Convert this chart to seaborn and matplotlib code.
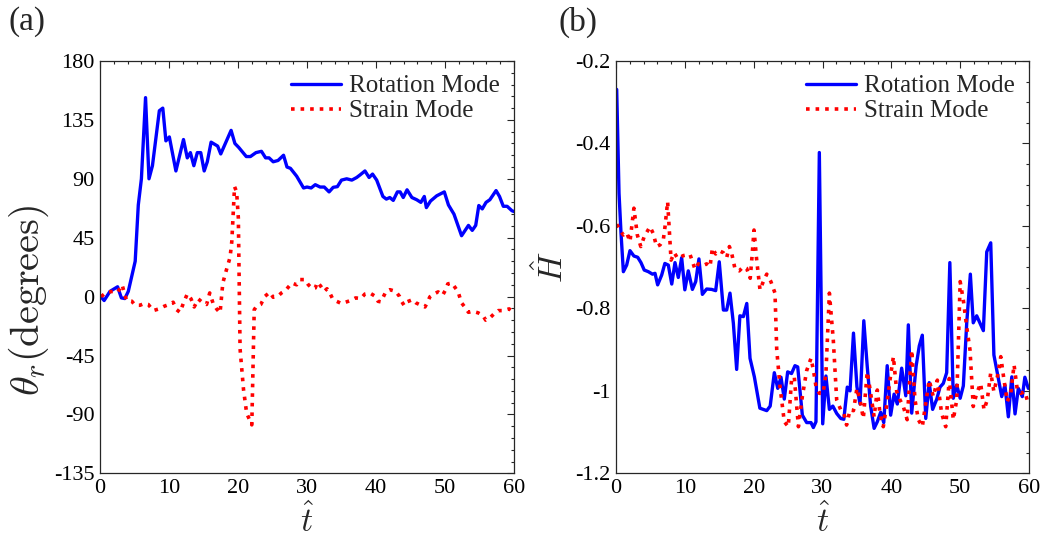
import numpy as np
import matplotlib
matplotlib.use('Agg')
import matplotlib.pyplot as plt
from matplotlib.ticker import MultipleLocator, FormatStrFormatter
import seaborn as sns

# (a) rotation angle theta_r vs t_hat
t_rot_a = [0.1, 0.6, 1.45, 2.55, 3.1, 3.6, 4.1, 5.1, 5.55, 6.0,
           6.6, 7.1, 7.6, 8.6, 9.1, 9.55, 10.05, 11.0, 12.1, 12.65,
           13.1, 13.6, 14.1, 14.6, 15.1, 15.55, 16.1, 17.05, 17.5, 19.0,
           19.55, 20.1, 21.2, 21.8, 22.6, 23.4, 24.0, 24.5, 25.1, 25.8,
           26.6, 27.1, 27.6, 28.5, 29.5, 30.0, 30.6, 31.2, 31.9, 32.5,
           33.2, 33.8, 34.4, 35.0, 35.75, 36.5, 37.2, 37.7, 38.4, 39.0,
           39.5, 40.1, 41.0, 41.5, 42.0, 42.5, 43.1, 43.5, 43.95, 44.5,
           45.2, 45.9, 46.5, 47.0, 47.3, 47.9, 48.8, 49.9, 50.5, 51.3,
           52.4, 53.4, 53.95, 54.45, 54.9, 55.4, 55.95, 56.5, 57.4, 57.9,
           58.45, 59.0, 59.7, 60.0]
theta_rot = [0, -3, 4, 7.5, -1, -1.5, 4, 27, 70, 90,
             152, 90, 100, 142, 144, 119, 122, 96, 120, 106,
             110, 100, 110, 110, 96, 103, 118, 115, 109, 127,
             117, 114, 107, 107, 110, 111, 106, 106, 103, 104,
             108, 99, 98, 92, 83, 83.7, 83, 85.5, 83.7, 83.7,
             80, 83.5, 84, 89, 90, 89, 91, 93, 96, 91,
             93.6, 89, 76.5, 74.5, 75.7, 73.5, 80, 80, 75.7, 81.6,
             75.7, 74, 72, 76.5, 68, 73, 77, 80, 70, 63,
             46.5, 54.4, 50.6, 54.4, 69.6, 67, 72, 74, 81, 76.5,
             69, 69, 65.6, 65]

t_str_a = [0.15, 0.95, 1.9, 2.55, 3.2, 3.85, 4.6, 5.1, 5.8, 6.4,
           7.0, 7.7, 8.55, 9.3, 10.0, 10.6, 11.1, 11.6, 12.1, 12.65,
           13.2, 13.65, 14.25, 14.8, 15.45, 15.9, 16.4, 16.9, 17.4, 17.8,
           18.3, 18.85, 19.1, 19.5, 19.8, 20.05, 20.3, 20.8, 21.25, 22.0,
           22.35, 22.7, 23.3, 23.9, 24.6, 25.1, 25.75, 26.3, 26.9, 27.8,
           28.5, 29.0, 29.7, 30.2, 30.8, 31.2, 31.5, 32.0, 32.5, 32.9,
           33.3, 33.7, 34.3, 35.0, 35.75, 36.3, 37.05, 37.8, 38.4, 39.1,
           39.9, 40.3, 40.7, 41.1, 41.45, 42.0, 42.85, 43.4, 43.7, 44.1,
           44.5, 45.3, 45.8, 46.5, 47.1, 47.5, 47.8, 48.4, 49.0, 49.65,
           50.1, 50.4, 51.0, 51.4, 51.9, 52.4, 52.9, 53.4, 54.0, 54.8,
           55.5, 55.9, 56.5, 57.1, 57.7, 58.45, 59.3, 60.0]
theta_str = [0, 3.3, 4, 3.3, 9, -3, -3.5, -6.6, -6.6, -5.3,
             -6, -10.7, -9.4, -7.4, -6, -4.3, -10, -12, -4.8, 2,
             -1.8, -7.9, -1.8, -4.3, -6, 2.8, -5.3, -9.4, -12.4, 10.4,
             20, 30, 42, 84, 80, 60, -40, -71, -89, -98,
             -10, -7.4, -6, 0.2, 3.3, -0.5, 0.2, 2.8, 4.8, 10.4,
             9, 13, 13, 9, 6, 6.6, 11, 7.9, 4, 6,
             2.8, -1.5, -3.6, -5.3, -4, -3, -1, -1.5, 2, 2.8,
             0.2, -3.6, -4, 0.2, 4, 5.3, 4, 0.2, -3.6, -6.9,
             -4, -2.3, -4.8, -6.6, -7.9, -4, -0.2, 2, 3.6, 1,
             5.3, 9.7, 10.4, 7.4, 3.6, -4.8, -8.2, -12, -11.2, -12.4,
             -14.5, -18, -16.3, -13.2, -10.7, -10.7, -9.4, -12]

# (b) H_hat vs t_hat
t_rot_b = [0.1, 0.44, 0.73, 1.07, 1.55, 2.03, 2.6, 3.15, 3.63, 4.1,
           4.7, 5.3, 5.67, 6.05, 6.64, 7.1, 7.6, 8.1, 8.57, 9.05,
           9.54, 10.0, 10.5, 11.1, 11.58, 12.05, 12.55, 13.17, 13.9, 14.48,
           15.0, 15.6, 16.08, 16.56, 17.05, 17.53, 18.0, 18.5, 19.0, 19.47,
           20.1, 20.9, 21.9, 22.4, 23.0, 23.5, 23.97, 24.45, 24.94, 25.5,
           26.0, 26.4, 27.07, 27.7, 28.33, 28.67, 29.05, 29.54, 30.03, 30.5,
           31.0, 31.5, 32.07, 32.65, 33.1, 33.6, 34.0, 34.5, 35.0, 35.45,
           36.0, 36.5, 37.0, 37.5, 37.96, 38.45, 38.9, 39.4, 39.9, 40.4,
           40.87, 41.5, 42.1, 42.47, 42.96, 43.6, 44.06, 44.5, 45.0, 45.5,
           46.0, 46.6, 47.07, 47.55, 48.04, 48.5, 49.0, 49.5, 50.0, 50.46,
           50.95, 51.48, 51.9, 52.4, 53.37, 53.86, 54.44, 54.9, 55.4, 56.04,
           56.5, 57.0, 57.5, 57.97, 58.45, 59.03, 59.4, 59.9]
H_rot = [-0.269, -0.521, -0.618, -0.711, -0.695, -0.660, -0.673, -0.676, -0.689, -0.707,
         -0.711, -0.717, -0.715, -0.743, -0.719, -0.691, -0.695, -0.741, -0.689, -0.725,
         -0.677, -0.755, -0.709, -0.754, -0.735, -0.680, -0.766, -0.753, -0.754, -0.757,
         -0.687, -0.804, -0.804, -0.763, -0.836, -0.948, -0.818, -0.820, -0.788, -0.921,
         -0.966, -1.042, -1.048, -1.037, -0.956, -0.994, -0.967, -1.02, -0.954, -0.958,
         -0.939, -0.942, -1.059, -1.077, -1.077, -1.089, -1.075, -0.422, -1.08, -0.964,
         -1.045, -1.037, -1.055, -1.067, -1.069, -0.991, -1.0, -0.86, -0.99, -1.032,
         -0.83, -0.941, -1.038, -1.091, -1.075, -1.052, -1.077, -0.939, -1.059, -1.008,
         -1.032, -0.945, -1.012, -0.84, -1.054, -0.94, -0.891, -0.865, -1.067, -0.98,
         -1.045, -1.02, -0.991, -0.982, -0.956, -0.689, -1.018, -0.986, -1.018, -0.988,
         -0.836, -0.717, -0.835, -0.818, -0.854, -0.663, -0.641, -0.913, -0.957, -1.014,
         -0.986, -1.063, -0.966, -1.056, -0.994, -1.014, -0.967, -0.994]

t_str_b = [0.1, 0.58, 1.06, 1.55, 2.03, 2.6, 3.1, 3.6, 4.1, 4.94,
           5.4, 5.9, 6.4, 6.87, 7.12, 7.5, 8.0, 8.47, 8.96, 9.78,
           10.75, 11.48, 11.96, 12.54, 13.17, 13.66, 14.0, 14.48, 14.97, 15.6,
           16.08, 16.47, 16.8, 17.3, 17.9, 18.5, 18.98, 19.5, 19.8, 20.05,
           20.44, 20.92, 21.4, 21.9, 22.5, 23.1, 23.35, 23.83, 24.45, 25.03,
           25.5, 25.9, 26.5, 27.07, 27.7, 28.33, 28.67, 29.06, 29.54, 30.1,
           30.5, 31.0, 31.57, 32.06, 32.65, 33.1, 33.5, 34.0, 34.5, 35.0,
           35.45, 35.93, 36.5, 37.0, 37.5, 37.96, 38.35, 38.83, 39.3, 39.8,
           40.3, 40.78, 41.26, 41.74, 42.3, 42.96, 43.44, 43.92, 44.5, 45.0,
           45.5, 46.1, 46.68, 47.3, 47.9, 48.42, 49.0, 49.5, 50.0, 50.46,
           50.95, 51.43, 51.9, 52.4, 52.98, 53.46, 53.94, 54.44, 54.9, 55.4,
           55.9, 56.37, 56.85, 57.35, 57.83, 58.3, 58.8, 59.4, 59.9]
H_str = [-0.596, -0.61, -0.622, -0.616, -0.638, -0.557, -0.622, -0.65, -0.626, -0.602,
         -0.618, -0.65, -0.646, -0.634, -0.602, -0.541, -0.683, -0.665, -0.679, -0.672,
         -0.669, -0.705, -0.692, -0.697, -0.692, -0.699, -0.654, -0.668, -0.66, -0.665,
         -0.677, -0.65, -0.666, -0.705, -0.709, -0.699, -0.703, -0.727, -0.666, -0.61,
         -0.683, -0.755, -0.735, -0.717, -0.735, -0.763, -0.9, -0.99, -1.075, -1.087,
         -0.974, -0.966, -1.087, -1.014, -0.951, -0.921, -0.949, -0.99, -1.006, -1.006,
         -0.957, -0.763, -0.877, -1.022, -1.046, -1.054, -1.083, -1.046, -1.048, -0.994,
         -1.022, -1.067, -0.954, -1.006, -1.063, -0.998, -1.054, -1.087, -1.038, -0.974,
         -0.917, -1.002, -1.022, -1.038, -1.07, -0.901, -1.022, -1.07, -1.087, -1.03,
         -0.974, -1.014, -0.974, -1.054, -1.087, -0.97, -1.07, -1.022, -0.735, -0.78,
         -0.845, -0.901, -1.038, -1.006, -0.982, -1.046, -1.022, -0.956, -1.002, -0.966,
         -0.917, -0.974, -1.026, -1.006, -0.937, -0.998, -1.006, -1.002, -1.032]

sns.set_theme(style='white')
plt.rcParams['font.family'] = ['Liberation Serif', 'DejaVu Serif']
plt.rcParams['mathtext.fontset'] = 'cm'
plt.rcParams['axes.unicode_minus'] = False

fig = plt.figure(figsize=(10.44, 5.39), dpi=100)
ax1 = fig.add_axes([100 / 1044, 1 - 473.3 / 539, 414 / 1044, 412.3 / 539])
ax2 = fig.add_axes([616 / 1044, 1 - 473.3 / 539, 413 / 1044, 412.3 / 539])

sns.lineplot(x=t_rot_a, y=theta_rot, ax=ax1, color='#0000ff', lw=2.4,
             estimator=None, label='Rotation Mode')
sns.lineplot(x=t_str_a, y=theta_str, ax=ax1, color='#ff0000', lw=2.6,
             ls=':', estimator=None, label='Strain Mode')
sns.lineplot(x=t_rot_b, y=H_rot, ax=ax2, color='#0000ff', lw=2.4,
             estimator=None, label='Rotation Mode')
sns.lineplot(x=t_str_b, y=H_str, ax=ax2, color='#ff0000', lw=2.6,
             ls=':', estimator=None, label='Strain Mode')

ax1.set_xlim(0, 60)
ax1.set_ylim(-135, 180)
ax1.yaxis.set_major_locator(MultipleLocator(45))
ax1.yaxis.set_minor_locator(MultipleLocator(9))
ax1.set_ylabel(r'$\theta_r(\mathrm{degrees})$', fontsize=29)
ax1.yaxis.set_label_coords(-0.118, 0.42)

ax2.set_xlim(0, 60)
ax2.set_ylim(-1.2, -0.2)
ax2.yaxis.set_major_locator(MultipleLocator(0.2))
ax2.yaxis.set_minor_locator(MultipleLocator(0.05))
ax2.yaxis.set_major_formatter(FormatStrFormatter('%g'))
ax2.set_ylabel(r'$\hat{H}$', fontsize=24, labelpad=4)

for ax in (ax1, ax2):
    ax.xaxis.set_major_locator(MultipleLocator(10))
    ax.xaxis.set_minor_locator(MultipleLocator(2))
    ax.set_xlabel(r'$\hat{t}$', fontsize=24, labelpad=4)
    ax.tick_params(which='both', direction='in', top=True, right=True,
                   colors='#262626', labelcolor='black', labelsize=16,
                   width=0.8)
    ax.tick_params(which='major', length=5, pad=4)
    ax.tick_params(which='minor', length=2.5)
    for sp in ax.spines.values():
        sp.set_color('#262626')
        sp.set_linewidth(0.9)
    ax.legend(loc='upper right', frameon=False, fontsize=18,
              handlelength=2.0, borderaxespad=0.15, labelspacing=0.1,
              handletextpad=0.35)

fig.text(0.008, 1 - 22 / 539, '(a)', fontsize=24, va='center', ha='left')
fig.text(0.535, 1 - 22 / 539, '(b)', fontsize=24, va='center', ha='left')

fig.savefig('out.png', dpi=100)
